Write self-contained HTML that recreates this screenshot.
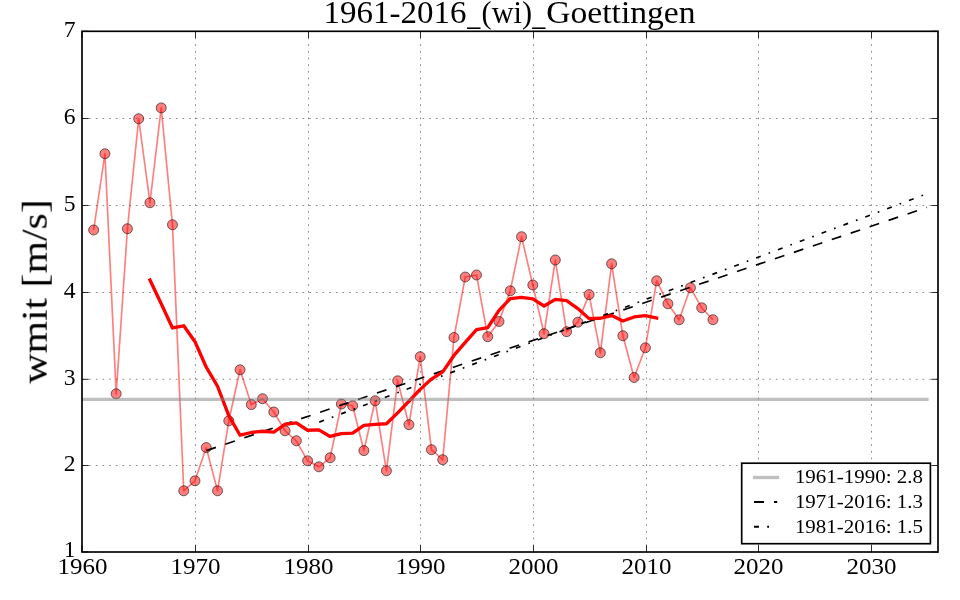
<!DOCTYPE html>
<html lang="en"><head><meta charset="utf-8"><title>1961-2016_(wi)_Goettingen</title>
<style>html,body{margin:0;padding:0;background:#fff;overflow:hidden}svg{display:block}text{font-family:"Liberation Serif",serif;fill:#000}</style></head><body>
<svg width="960" height="600" viewBox="0 0 960 600">
<rect x="0" y="0" width="960" height="600" fill="#fff"/>
<g stroke="#000" stroke-opacity="0.56" stroke-width="0.83" stroke-dasharray="1.667 5" fill="none">
<line x1="195.5" y1="552.6" x2="195.5" y2="31.3"/>
<line x1="308.5" y1="552.6" x2="308.5" y2="31.3"/>
<line x1="420.5" y1="552.6" x2="420.5" y2="31.3"/>
<line x1="533.5" y1="552.6" x2="533.5" y2="31.3"/>
<line x1="646.5" y1="552.6" x2="646.5" y2="31.3"/>
<line x1="758.5" y1="552.6" x2="758.5" y2="31.3"/>
<line x1="871.5" y1="552.6" x2="871.5" y2="31.3"/>
<line x1="82.5" y1="465.5" x2="938.0" y2="465.5"/>
<line x1="82.5" y1="379.3" x2="938.0" y2="379.3"/>
<line x1="82.5" y1="292.5" x2="938.0" y2="292.5"/>
<line x1="82.5" y1="205.5" x2="938.0" y2="205.5"/>
<line x1="82.5" y1="118.5" x2="938.0" y2="118.5"/>
</g>
<g fill="none">
<polyline points="93.66,230.00 104.92,153.75 116.18,393.80 127.44,228.75 138.70,118.75 149.96,202.75 161.22,107.90 172.48,224.75 183.74,490.80 195.00,480.80 206.26,447.60 217.52,490.80 228.78,420.80 240.04,369.80 251.30,404.60 262.56,398.70 273.82,412.00 285.08,430.80 296.34,440.80 307.60,460.80 318.86,466.80 330.12,457.80 341.38,404.00 352.64,405.80 363.90,450.60 375.16,400.80 386.42,470.80 397.68,380.80 408.94,424.70 420.20,356.70 431.46,449.70 442.72,459.70 453.98,337.50 465.24,277.00 476.50,275.00 487.76,336.70 499.02,321.50 510.28,290.80 521.54,236.70 532.80,285.00 544.06,333.70 555.32,260.00 566.58,331.70 577.84,322.20 589.10,294.60 600.36,352.80 611.62,263.80 622.88,335.80 634.14,377.50 645.40,347.80 656.66,280.80 667.92,303.80 679.18,319.80 690.44,287.80 701.70,307.80 712.96,319.70" stroke="#f00" stroke-opacity="0.5" stroke-width="1.67" stroke-linejoin="round"/>
<g fill="#f00" fill-opacity="0.5" stroke="#000" stroke-opacity="0.62" stroke-width="0.9">
<circle cx="93.66" cy="230.00" r="5"/>
<circle cx="104.92" cy="153.75" r="5"/>
<circle cx="116.18" cy="393.80" r="5"/>
<circle cx="127.44" cy="228.75" r="5"/>
<circle cx="138.70" cy="118.75" r="5"/>
<circle cx="149.96" cy="202.75" r="5"/>
<circle cx="161.22" cy="107.90" r="5"/>
<circle cx="172.48" cy="224.75" r="5"/>
<circle cx="183.74" cy="490.80" r="5"/>
<circle cx="195.00" cy="480.80" r="5"/>
<circle cx="206.26" cy="447.60" r="5"/>
<circle cx="217.52" cy="490.80" r="5"/>
<circle cx="228.78" cy="420.80" r="5"/>
<circle cx="240.04" cy="369.80" r="5"/>
<circle cx="251.30" cy="404.60" r="5"/>
<circle cx="262.56" cy="398.70" r="5"/>
<circle cx="273.82" cy="412.00" r="5"/>
<circle cx="285.08" cy="430.80" r="5"/>
<circle cx="296.34" cy="440.80" r="5"/>
<circle cx="307.60" cy="460.80" r="5"/>
<circle cx="318.86" cy="466.80" r="5"/>
<circle cx="330.12" cy="457.80" r="5"/>
<circle cx="341.38" cy="404.00" r="5"/>
<circle cx="352.64" cy="405.80" r="5"/>
<circle cx="363.90" cy="450.60" r="5"/>
<circle cx="375.16" cy="400.80" r="5"/>
<circle cx="386.42" cy="470.80" r="5"/>
<circle cx="397.68" cy="380.80" r="5"/>
<circle cx="408.94" cy="424.70" r="5"/>
<circle cx="420.20" cy="356.70" r="5"/>
<circle cx="431.46" cy="449.70" r="5"/>
<circle cx="442.72" cy="459.70" r="5"/>
<circle cx="453.98" cy="337.50" r="5"/>
<circle cx="465.24" cy="277.00" r="5"/>
<circle cx="476.50" cy="275.00" r="5"/>
<circle cx="487.76" cy="336.70" r="5"/>
<circle cx="499.02" cy="321.50" r="5"/>
<circle cx="510.28" cy="290.80" r="5"/>
<circle cx="521.54" cy="236.70" r="5"/>
<circle cx="532.80" cy="285.00" r="5"/>
<circle cx="544.06" cy="333.70" r="5"/>
<circle cx="555.32" cy="260.00" r="5"/>
<circle cx="566.58" cy="331.70" r="5"/>
<circle cx="577.84" cy="322.20" r="5"/>
<circle cx="589.10" cy="294.60" r="5"/>
<circle cx="600.36" cy="352.80" r="5"/>
<circle cx="611.62" cy="263.80" r="5"/>
<circle cx="622.88" cy="335.80" r="5"/>
<circle cx="634.14" cy="377.50" r="5"/>
<circle cx="645.40" cy="347.80" r="5"/>
<circle cx="656.66" cy="280.80" r="5"/>
<circle cx="667.92" cy="303.80" r="5"/>
<circle cx="679.18" cy="319.80" r="5"/>
<circle cx="690.44" cy="287.80" r="5"/>
<circle cx="701.70" cy="307.80" r="5"/>
<circle cx="712.96" cy="319.70" r="5"/>
</g>
<line x1="206.4" y1="450.6" x2="927.0" y2="207.4" stroke="#000" stroke-width="1.67" stroke-dasharray="10 10"/>
<line x1="319.3" y1="422.1" x2="927.35" y2="193.6" stroke="#000" stroke-width="1.67" stroke-dasharray="5 8.33 1.67 8.33"/>
<polyline points="149.96,279.97 161.22,303.68 172.48,327.95 183.74,325.77 195.00,341.76 206.26,367.21 217.52,386.23 228.78,415.59 240.04,435.23 251.30,432.50 262.56,431.23 273.82,432.15 285.08,424.26 296.34,422.90 307.60,430.25 318.86,429.90 330.12,436.45 341.38,433.62 352.64,433.06 363.90,425.42 375.16,424.41 386.42,423.76 397.68,412.83 408.94,401.28 420.20,389.39 431.46,379.04 442.72,371.83 453.98,355.46 465.24,342.36 476.50,329.66 487.76,327.57 499.02,310.33 510.28,298.69 521.54,297.30 532.80,298.90 544.06,305.97 555.32,299.35 566.58,300.65 577.84,308.53 589.10,318.63 600.36,318.25 611.62,315.53 622.88,320.96 634.14,316.97 645.40,315.66 656.66,317.95" stroke="#f00" stroke-width="3.33" stroke-linejoin="round" stroke-linecap="square"/>
<line x1="82.0" y1="399.4" x2="928.6" y2="399.4" stroke="#808080" stroke-opacity="0.5" stroke-width="3.33"/>
</g>
<g stroke="#000" stroke-width="0.83" fill="none">
<line x1="195.5" y1="552.0" x2="195.5" y2="545.33"/>
<line x1="195.5" y1="31.3" x2="195.5" y2="37.97"/>
<line x1="308.5" y1="552.0" x2="308.5" y2="545.33"/>
<line x1="308.5" y1="31.3" x2="308.5" y2="37.97"/>
<line x1="420.5" y1="552.0" x2="420.5" y2="545.33"/>
<line x1="420.5" y1="31.3" x2="420.5" y2="37.97"/>
<line x1="533.5" y1="552.0" x2="533.5" y2="545.33"/>
<line x1="533.5" y1="31.3" x2="533.5" y2="37.97"/>
<line x1="646.5" y1="552.0" x2="646.5" y2="545.33"/>
<line x1="646.5" y1="31.3" x2="646.5" y2="37.97"/>
<line x1="758.5" y1="552.0" x2="758.5" y2="545.33"/>
<line x1="758.5" y1="31.3" x2="758.5" y2="37.97"/>
<line x1="871.5" y1="552.0" x2="871.5" y2="545.33"/>
<line x1="871.5" y1="31.3" x2="871.5" y2="37.97"/>
<line x1="82.0" y1="552.0" x2="82.0" y2="545.33"/>
<line x1="82.0" y1="31.3" x2="82.0" y2="37.97"/>
<line x1="82.0" y1="552.0" x2="88.67" y2="552.0"/>
<line x1="938.0" y1="552.0" x2="931.33" y2="552.0"/>
<line x1="82.0" y1="465.5" x2="88.67" y2="465.5"/>
<line x1="938.0" y1="465.5" x2="931.33" y2="465.5"/>
<line x1="82.0" y1="379.3" x2="88.67" y2="379.3"/>
<line x1="938.0" y1="379.3" x2="931.33" y2="379.3"/>
<line x1="82.0" y1="292.5" x2="88.67" y2="292.5"/>
<line x1="938.0" y1="292.5" x2="931.33" y2="292.5"/>
<line x1="82.0" y1="205.5" x2="88.67" y2="205.5"/>
<line x1="938.0" y1="205.5" x2="931.33" y2="205.5"/>
<line x1="82.0" y1="118.5" x2="88.67" y2="118.5"/>
<line x1="938.0" y1="118.5" x2="931.33" y2="118.5"/>
<line x1="82.0" y1="31.3" x2="88.67" y2="31.3"/>
<line x1="938.0" y1="31.3" x2="931.33" y2="31.3"/>
</g>
<rect x="82.0" y="31.3" width="856.0" height="520.70" fill="none" stroke="#000" stroke-width="1.67"/>
<rect x="741.7" y="463.2" width="188.7" height="80.5" fill="#fff" stroke="#000" stroke-width="1.67"/>
<line x1="754.6" y1="477.5" x2="777.4" y2="477.5" stroke="#808080" stroke-opacity="0.5" stroke-width="3.33" stroke-linecap="square"/>
<line x1="754.0" y1="501.9" x2="777.8" y2="501.9" stroke="#000" stroke-width="2" stroke-dasharray="10 10 3.2 10"/>
<line x1="754.0" y1="526.8" x2="777.8" y2="526.8" stroke="#000" stroke-width="2" stroke-dasharray="5 8.2 1.8 100"/>
<g style="will-change:transform">
<text x="195.6" y="574.2" font-size="23.2" text-anchor="middle" textLength="50.0" lengthAdjust="spacingAndGlyphs">1970</text>
<text x="308.6" y="574.2" font-size="23.2" text-anchor="middle" textLength="50.0" lengthAdjust="spacingAndGlyphs">1980</text>
<text x="420.6" y="574.2" font-size="23.2" text-anchor="middle" textLength="50.0" lengthAdjust="spacingAndGlyphs">1990</text>
<text x="533.6" y="574.2" font-size="23.2" text-anchor="middle" textLength="50.0" lengthAdjust="spacingAndGlyphs">2000</text>
<text x="646.6" y="574.2" font-size="23.2" text-anchor="middle" textLength="50.0" lengthAdjust="spacingAndGlyphs">2010</text>
<text x="758.6" y="574.2" font-size="23.2" text-anchor="middle" textLength="50.0" lengthAdjust="spacingAndGlyphs">2020</text>
<text x="871.6" y="574.2" font-size="23.2" text-anchor="middle" textLength="50.0" lengthAdjust="spacingAndGlyphs">2030</text>
<text x="82.5" y="574.2" font-size="23.2" text-anchor="middle" textLength="50.0" lengthAdjust="spacingAndGlyphs">1960</text>
<text x="75.6" y="557.2" font-size="23.2" text-anchor="end" textLength="11.8" lengthAdjust="spacingAndGlyphs">1</text>
<text x="75.6" y="470.7" font-size="23.2" text-anchor="end" textLength="11.8" lengthAdjust="spacingAndGlyphs">2</text>
<text x="75.6" y="384.5" font-size="23.2" text-anchor="end" textLength="11.8" lengthAdjust="spacingAndGlyphs">3</text>
<text x="75.6" y="297.7" font-size="23.2" text-anchor="end" textLength="11.8" lengthAdjust="spacingAndGlyphs">4</text>
<text x="75.6" y="210.7" font-size="23.2" text-anchor="end" textLength="11.8" lengthAdjust="spacingAndGlyphs">5</text>
<text x="75.6" y="123.7" font-size="23.2" text-anchor="end" textLength="11.8" lengthAdjust="spacingAndGlyphs">6</text>
<text x="75.6" y="36.5" font-size="23.2" text-anchor="end" textLength="11.8" lengthAdjust="spacingAndGlyphs">7</text>
<text y="22.6" font-size="30.6"><tspan x="323.6" y="22.6" textLength="143.0" lengthAdjust="spacingAndGlyphs">1961-2016</tspan><tspan x="467.3" y="24.6" textLength="13.1" lengthAdjust="spacingAndGlyphs">_</tspan><tspan x="481.6" y="22.6" textLength="50.5" lengthAdjust="spacingAndGlyphs">(wi)</tspan><tspan x="532.3" y="24.6" textLength="13.1" lengthAdjust="spacingAndGlyphs">_</tspan><tspan x="546.2" y="22.6" textLength="149.4" lengthAdjust="spacingAndGlyphs">Goettingen</tspan></text>
<text transform="translate(46.7,291.5) rotate(-90) scale(1.135,1)" font-size="36.8" text-anchor="middle">wmit [m/s]</text>
<text x="794.9" y="482.8" font-size="18.8" text-anchor="start" textLength="128.1" lengthAdjust="spacingAndGlyphs">1961-1990: 2.8</text>
<text x="794.9" y="507.5" font-size="18.8" text-anchor="start" textLength="128.1" lengthAdjust="spacingAndGlyphs">1971-2016: 1.3</text>
<text x="794.9" y="532.7" font-size="18.8" text-anchor="start" textLength="128.1" lengthAdjust="spacingAndGlyphs">1981-2016: 1.5</text>
</g>
</svg></body></html>
